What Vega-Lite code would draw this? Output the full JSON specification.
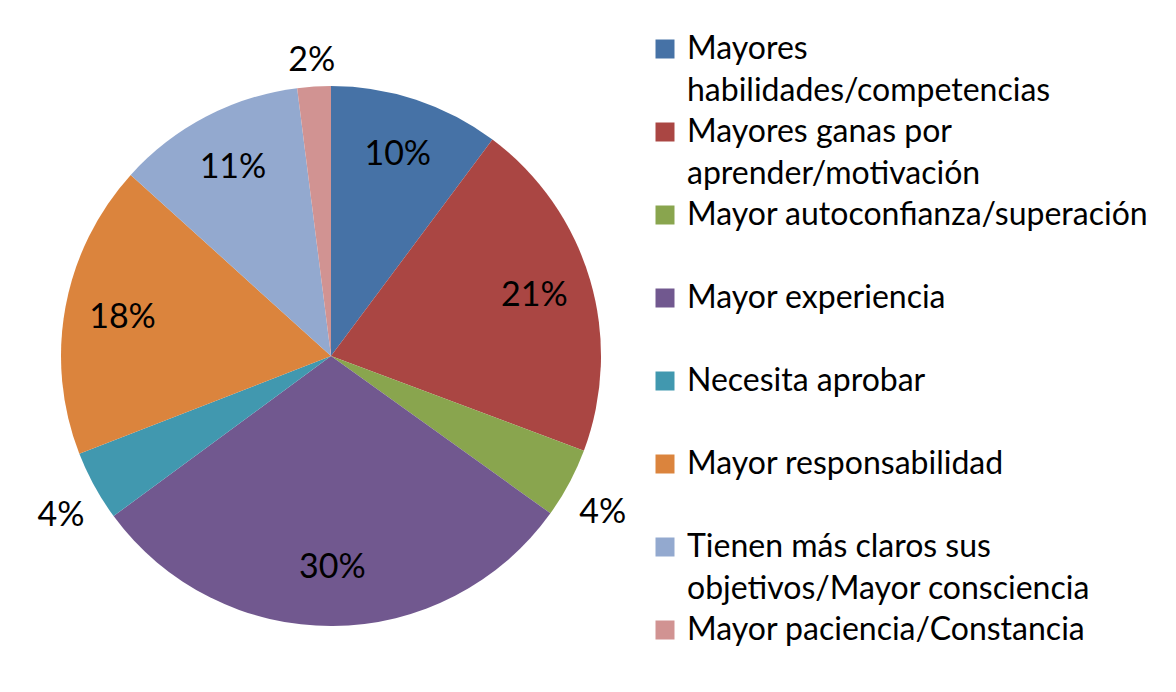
{
  "$schema": "https://vega.github.io/schema/vega-lite/v6.json",
  "width": 662,
  "height": 672,
  "padding": {"top": 20, "left": 0, "right": 514, "bottom": 0},
  "autosize": {"type": "none"},
  "background": "white",
  "config": {
    "view": {"stroke": null},
    "font": "Lato",
    "style": {"guide-label": {"lineHeight": 42}}
  },
  "data": {
    "values": [
      {"categoria": "Mayores habilidades/competencias", "valor": 0.102, "orden": 1},
      {"categoria": "Mayores ganas por aprender/motivación", "valor": 0.205, "orden": 2},
      {"categoria": "Mayor autoconfianza/superación", "valor": 0.042, "orden": 3},
      {"categoria": "Mayor experiencia", "valor": 0.300, "orden": 4},
      {"categoria": "Necesita aprobar", "valor": 0.042, "orden": 5},
      {"categoria": "Mayor responsabilidad", "valor": 0.176, "orden": 6},
      {"categoria": "Tienen más claros sus objetivos/Mayor consciencia", "valor": 0.113, "orden": 7},
      {"categoria": "Mayor paciencia/Constancia", "valor": 0.020, "orden": 8}
    ]
  },
  "encoding": {
    "theta": {"field": "valor", "type": "quantitative", "stack": true},
    "order": {"field": "orden", "type": "quantitative"}
  },
  "layer": [
    {
      "mark": {"type": "arc", "outerRadius": 270},
      "encoding": {
        "color": {
          "field": "categoria",
          "type": "nominal",
          "sort": null,
          "scale": {"range": ["#4672A6", "#AA4643", "#89A54E", "#71588F", "#4198AF", "#DB843D", "#93A9CF", "#D19392"]},
          "legend": {
            "orient": "none",
            "legendX": 649,
            "legendY": 13,
            "title": null,
            "padding": 0,
            "rowPadding": 9,
            "symbolType": "square",
            "symbolSize": 361,
            "symbolStrokeWidth": 0,
            "labelFont": "Lato",
            "labelFontSize": 32,
            "labelColor": "black",
            "labelOffset": 6,
            "labelLimit": 700,
            "labelExpr": "datum.label == 'Mayores habilidades/competencias' ? ['Mayores', 'habilidades/competencias'] : datum.label == 'Mayores ganas por aprender/motivación' ? ['Mayores ganas por', 'aprender/motivación'] : datum.label == 'Tienen más claros sus objetivos/Mayor consciencia' ? ['Tienen más claros sus', 'objetivos/Mayor consciencia'] : [datum.label, '']"
          }
        }
      }
    },
    {
      "mark": {"type": "text", "radius": 212, "fontSize": 34, "font": "Lato", "color": "black"},
      "encoding": {
        "text": {"condition": {"test": "datum.valor >= 0.05", "field": "valor", "format": ".0%"}, "value": ""}
      }
    },
    {
      "mark": {"type": "text", "radius": 308, "dy": 12, "fontSize": 34, "font": "Lato", "color": "black"},
      "encoding": {
        "text": {"condition": {"test": "datum.valor < 0.05", "field": "valor", "format": ".0%"}, "value": ""}
      }
    }
  ]
}
